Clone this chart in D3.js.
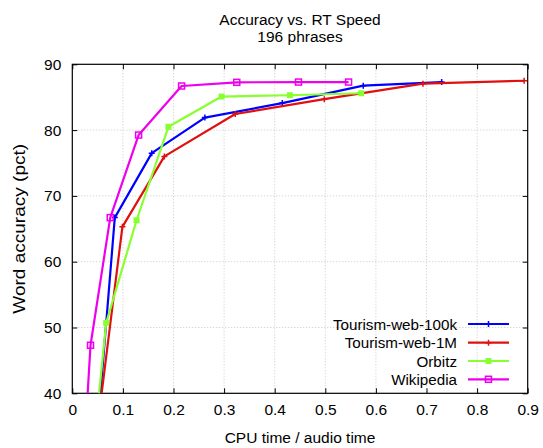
<!DOCTYPE html>
<html>
<head>
<meta charset="utf-8">
<script src="https://cdn.jsdelivr.net/npm/d3@7.9.0/dist/d3.min.js"></script>
<style>
  body { margin: 0; background: #fff; }
  svg { font-family: "Liberation Sans", Arial, sans-serif; }
</style>
</head>
<body>
<svg width="543" height="448"></svg>
<script>
// values
const seriesNames = ['Tourism-web-100k', 'Tourism-web-1M', 'Orbitz', 'Wikipedia'];
const seriesColors = ['#0000ff', '#e01010', '#88ff30', '#ee00ee'];
const seriesMarks = ['plus', 'plus', 'fsquare', 'osquare'];

const web100kCpu = [0.045, 0.084, 0.157, 0.262, 0.415, 0.575, 0.730];
const web100kAcc = [30.0, 66.7, 76.5, 81.9, 84.1, 86.75, 87.3];
const web1mCpu = [0.045, 0.099, 0.182, 0.322, 0.498, 0.693, 0.893];
const web1mAcc = [32.0, 65.3, 76.0, 82.45, 84.7, 87.05, 87.5];
const orbitzCpu = [0.045, 0.067, 0.127, 0.190, 0.295, 0.430, 0.571];
const orbitzAcc = [34.0, 50.7, 66.3, 80.5, 85.1, 85.3, 85.6];
const wikiCpu = [0.028, 0.036, 0.075, 0.131, 0.216, 0.325, 0.447, 0.546];
const wikiAcc = [37.0, 47.3, 66.7, 79.25, 86.7, 87.26, 87.3, 87.3];

const xTicks = [0, 0.1, 0.2, 0.3, 0.4, 0.5, 0.6, 0.7, 0.8, 0.9];
const yTicks = [40, 50, 60, 70, 80, 90];

const series = [
  [web100kCpu, web100kAcc],
  [web1mCpu, web1mAcc],
  [orbitzCpu, orbitzAcc],
  [wikiCpu, wikiAcc]
].map(([xs, ys], i) => ({
  name: seriesNames[i],
  color: seriesColors[i],
  mark: seriesMarks[i],
  points: xs.map((x, j) => ({ x: x, y: ys[j] }))
}));

const svg = d3.select('svg');
const pLeft = 72.3, pRight = 527.7, pTop = 64.3, pBottom = 393.3;

const x = d3.scaleLinear().domain([0, 0.9]).range([pLeft, pRight]);
const y = d3.scaleLinear().domain([40, 90]).range([pBottom, pTop]);

svg.append('clipPath').attr('id', 'plotclip')
  .append('rect')
  .attr('x', pLeft).attr('y', pTop)
  .attr('width', pRight - pLeft).attr('height', pBottom - pTop);

// grid
const grid = svg.append('g');
xTicks.slice(1, -1).forEach(t => {
  grid.append('line')
    .attr('x1', x(t)).attr('x2', x(t))
    .attr('y1', pTop).attr('y2', pBottom)
    .attr('stroke', '#c8c8c8').attr('stroke-width', 1)
    .attr('stroke-dasharray', '1,2');
});
yTicks.slice(1, -1).forEach(t => {
  grid.append('line')
    .attr('x1', pLeft).attr('x2', pRight)
    .attr('y1', y(t)).attr('y2', y(t))
    .attr('stroke', '#c8c8c8').attr('stroke-width', 1)
    .attr('stroke-dasharray', '1,2');
});

// axes with inward ticks, mirrored
const tickLen = 5;
svg.append('g')
  .attr('transform', `translate(0,${pBottom})`)
  .call(d3.axisBottom(x).tickValues(xTicks).tickSize(-tickLen).tickPadding(11)
    .tickFormat(d => d === 0 ? '0' : d3.format('.1f')(d)))
  .call(g => g.select('.domain').remove());
svg.append('g')
  .attr('transform', `translate(0,${pTop})`)
  .call(d3.axisTop(x).tickValues(xTicks).tickSize(-tickLen).tickFormat(''))
  .call(g => g.select('.domain').remove());
svg.append('g')
  .attr('transform', `translate(${pLeft},0)`)
  .call(d3.axisLeft(y).tickValues(yTicks).tickSize(-tickLen).tickPadding(11))
  .call(g => g.select('.domain').remove());
svg.append('g')
  .attr('transform', `translate(${pRight},0)`)
  .call(d3.axisRight(y).tickValues(yTicks).tickSize(-tickLen).tickFormat(''))
  .call(g => g.select('.domain').remove());

svg.selectAll('.tick text')
  .attr('font-size', 15.5)
  .attr('font-family', '"Liberation Sans", Arial, sans-serif')
  .attr('fill', '#000');
svg.selectAll('.tick line').attr('stroke', '#000');

// frame
svg.append('rect')
  .attr('x', pLeft).attr('y', pTop)
  .attr('width', pRight - pLeft).attr('height', pBottom - pTop)
  .attr('fill', 'none').attr('stroke', '#000').attr('stroke-width', 1.2);

// markers
function drawMark(g, kind, cx, cy, color) {
  if (kind === 'plus') {
    g.append('path')
      .attr('d', `M${cx - 3},${cy}H${cx + 3}M${cx},${cy - 3}V${cy + 3}`)
      .attr('stroke', color).attr('stroke-width', 1.5).attr('fill', 'none');
  } else if (kind === 'fsquare') {
    g.append('rect')
      .attr('x', cx - 3).attr('y', cy - 3).attr('width', 6).attr('height', 6)
      .attr('fill', color);
  } else {
    g.append('rect')
      .attr('x', cx - 3).attr('y', cy - 3).attr('width', 6).attr('height', 6)
      .attr('fill', 'none').attr('stroke', color).attr('stroke-width', 1.5);
  }
}

const line = d3.line().x(d => x(d.x)).y(d => y(d.y));
const plot = svg.append('g').attr('clip-path', 'url(#plotclip)');
series.forEach(s => {
  plot.append('path')
    .datum(s.points)
    .attr('d', line)
    .attr('fill', 'none')
    .attr('stroke', s.color)
    .attr('stroke-width', 2.2)
    .attr('stroke-linejoin', 'round');
  s.points.filter(p => p.y >= 40 && p.y <= 90).forEach(p => {
    drawMark(plot, s.mark, x(p.x), y(p.y), s.color);
  });
});

// legend
const legendY = [324, 342.7, 361, 379.3];
series.forEach((s, i) => {
  const ly = legendY[i];
  svg.append('text')
    .attr('x', 457).attr('y', ly)
    .attr('dy', '0.37em')
    .attr('text-anchor', 'end')
    .attr('font-size', 15.2)
    .text(s.name);
  svg.append('line')
    .attr('x1', 468).attr('x2', 509)
    .attr('y1', ly).attr('y2', ly)
    .attr('stroke', s.color).attr('stroke-width', 2.2);
  drawMark(svg, s.mark, 488.5, ly, s.color);
});

// titles
svg.append('text')
  .attr('x', 300).attr('y', 25)
  .attr('text-anchor', 'middle').attr('font-size', 15.5)
  .text('Accuracy vs. RT Speed');
svg.append('text')
  .attr('x', 300).attr('y', 42)
  .attr('text-anchor', 'middle').attr('font-size', 15.5)
  .text('196 phrases');
svg.append('text')
  .attr('x', 300).attr('y', 443)
  .attr('text-anchor', 'middle').attr('font-size', 15.5)
  .text('CPU time / audio time');
svg.append('text')
  .attr('transform', `translate(25,${(pTop + pBottom) / 2}) scale(1,1.12) rotate(-90)`)
  .attr('text-anchor', 'middle').attr('font-size', 17)
  .text('Word accuracy (pct)');
</script>
</body>
</html>
